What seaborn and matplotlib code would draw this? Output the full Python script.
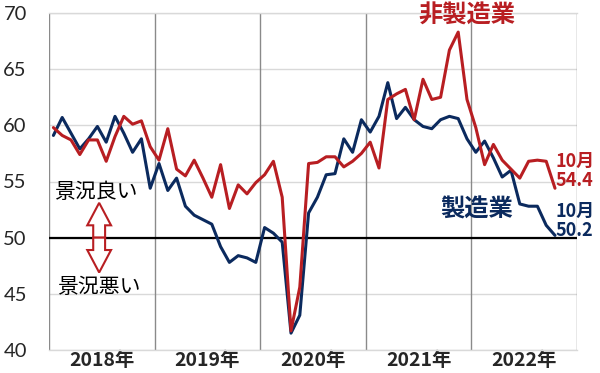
import numpy as np
import pandas as pd
import matplotlib
matplotlib.use("Agg")
import matplotlib.pyplot as plt
from matplotlib.patches import FancyArrow
import seaborn as sns

years = ["2018年", "2019年", "2020年", "2021年", "2022年"]

manufacturing = [
    59.1, 60.7, 59.3, 57.9, 58.8, 59.9, 58.5, 60.8, 59.3, 57.6, 58.8, 54.4,
    56.6, 54.2, 55.3, 52.8, 52.0, 51.6, 51.2, 49.2, 47.8, 48.4, 48.2, 47.8,
    50.9, 50.4, 49.6, 41.5, 43.1, 52.2, 53.6, 55.6, 55.7, 58.8, 57.6, 60.5,
    59.4, 60.8, 63.8, 60.6, 61.6, 60.5, 59.9, 59.7, 60.5, 60.8, 60.6, 58.8,
    57.6, 58.6, 57.1, 55.4, 56.0, 53.0, 52.8, 52.8, 51.1, 50.2,
]
non_manufacturing = [
    59.8, 59.1, 58.7, 57.4, 58.7, 58.7, 56.8, 59.0, 60.8, 60.1, 60.4, 58.1,
    56.9, 59.7, 56.1, 55.5, 56.9, 55.3, 53.6, 56.5, 52.6, 54.7, 53.9, 54.9,
    55.6, 56.8, 53.6, 41.7, 45.6, 56.6, 56.7, 57.2, 57.2, 56.3, 56.8, 57.5,
    58.5, 56.2, 62.3, 62.8, 63.2, 60.5, 64.1, 62.3, 62.5, 66.7, 68.3, 62.3,
    59.8, 56.5, 58.3, 56.9, 56.1, 55.3, 56.8, 56.9, 56.8, 54.4,
]
yticks = [40, 45, 50, 55, 60, 65, 70]

RED = "#B81E22"
NAVY = "#0B2A5E"

sns.set_style("white")
plt.rcParams["font.family"] = ["Noto Sans CJK JP", "DejaVu Sans"]

n = len(manufacturing)
df = pd.DataFrame({
    "month": list(range(n)) * 2,
    "value": manufacturing + non_manufacturing,
    "series": ["製造業"] * n + ["非製造業"] * n,
})

fig = plt.figure(figsize=(6.0, 3.73), dpi=100)
ax = fig.add_axes([49 / 600, 1 - 350 / 373, (577 - 49) / 600, (350 - 13) / 373])

sns.lineplot(data=df, x="month", y="value", hue="series",
             palette={"製造業": NAVY, "非製造業": RED},
             hue_order=["製造業", "非製造業"],
             linewidth=2.2, legend=False, ax=ax, zorder=3)

ax.set_xlim(-0.5, 59.5)
ax.set_ylim(40, 70)
ax.set_xlabel("")
ax.set_ylabel("")

bounds = [-0.5 + 12 * i for i in range(len(years) + 1)]
centers = [5.5 + 12 * i for i in range(len(years))]
ax.set_xticks(bounds)
ax.set_xticklabels([""] * len(bounds))
ax.set_xticks(centers, minor=True)
ax.set_xticklabels(years, minor=True, fontsize=14, fontweight="bold",
                   family=["Noto Sans CJK JP"])
ax.tick_params(axis="x", which="both", length=0, pad=1)

ax.set_yticks(yticks)
ax.set_yticklabels([str(v) for v in yticks], fontsize=14.5, family=["Lato", "DejaVu Sans"])
ax.tick_params(axis="y", length=0, pad=16)

ax.grid(axis="y", color="#d9d9d9", linewidth=1.0, zorder=0)
for b in bounds:
    ax.axvline(b, color="#8a8a8a", linewidth=1.0, zorder=1)

for s in ["top", "bottom"]:
    ax.spines[s].set_color("#d9d9d9")
    ax.spines[s].set_linewidth(1.0)
for s in ["left", "right"]:
    ax.spines[s].set_visible(False)

ax.axhline(50, color="black", linewidth=1.6, zorder=2)

ax_x = 5.2
for dy in (3.1, -3.1):
    arr = FancyArrow(ax_x, 50, 0, dy, width=1.35, head_width=2.7, head_length=2.0,
                     length_includes_head=True, facecolor="white", edgecolor=RED,
                     linewidth=1.5, zorder=4)
    ax.add_patch(arr)

ax.text(4.85, 54.1, "景況良い", fontsize=15, ha="center", va="center", color="black", zorder=5)
ax.text(5.2, 45.6, "景況悪い", fontsize=15, ha="center", va="center", color="black", zorder=5)

ax.text(47.0, 69.8, "非製造業", fontsize=17.5, fontweight="bold", color=RED,
        ha="center", va="center", clip_on=False, zorder=5)
ax.text(48.1, 52.5, "製造業", fontsize=17.5, fontweight="bold", color=NAVY,
        ha="center", va="center", zorder=5)

ax.text(57.1, 56.8, "10月", fontsize=13, fontweight="bold", color=RED,
        ha="left", va="center", clip_on=False, zorder=5)
ax.text(57.1, 55.05, f"{non_manufacturing[-1]:.1f}", fontsize=13, fontweight="bold", color=RED,
        ha="left", va="center", clip_on=False, zorder=5)
ax.text(57.1, 52.35, "10月", fontsize=13, fontweight="bold", color=NAVY,
        ha="left", va="center", clip_on=False, zorder=5)
ax.text(57.1, 50.6, f"{manufacturing[-1]:.1f}", fontsize=13, fontweight="bold", color=NAVY,
        ha="left", va="center", clip_on=False, zorder=5)

fig.savefig("out.png", dpi=100)
